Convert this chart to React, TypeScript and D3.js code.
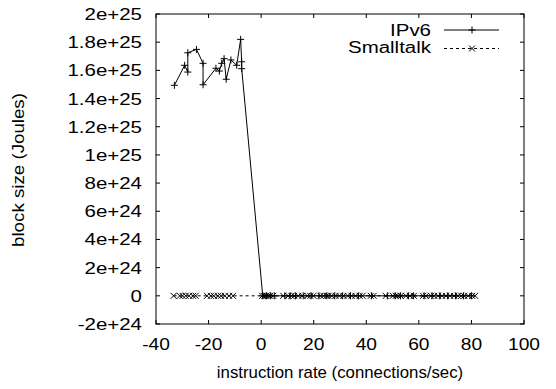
import React from "react";
import * as d3 from "d3";

const xTicks = [-40, -20, 0, 20, 40, 60, 80, 100];
const yTicks = [-2e24, 0, 2e24, 4e24, 6e24, 8e24, 1e25, 1.2e25, 1.4e25, 1.6e25, 1.8e25, 2e25];
const yTickLabels = ["-2e+24", "0", "2e+24", "4e+24", "6e+24", "8e+24", "1e+25", "1.2e+25", "1.4e+25", "1.6e+25", "1.8e+25", "2e+25"];

const ipv6X = [-33.0, -29.1, -27.9, -27.9, -24.6, -22.1, -22.1, -17.2, -15.9, -15.0, -14.1, -13.3, -11.5, -9.3, -7.8, -7.4, -7.4,
  0.6, 2.0, 3.5, 5.0, 9.0, 11.0, 13.0, 16.0, 19.0, 22.0, 25.0, 28.0, 31.0, 34.0, 37.0, 42.0, 48.0, 51.0, 53.0, 56.0, 58.0, 62.0, 65.0, 68.0, 71.0, 74.0, 77.0, 80.0];
const ipv6Y = [14.94e24, 16.36e24, 15.88e24, 17.25e24, 17.49e24, 16.5e24, 14.98e24, 16.15e24, 15.95e24, 16.5e24, 16.83e24, 15.37e24, 16.74e24, 16.36e24, 18.2e24, 16.61e24, 16.12e24,
  0, 0, 0, 0, 0, 0, 0, 0, 0, 0, 0, 0, 0, 0, 0, 0, 0, 0, 0, 0, 0, 0, 0, 0, 0, 0, 0, 0];

const smalltalkX = [-33.3, -31.0, -29.9, -28.7, -27.4, -25.9, -24.9, -20.6, -19.1, -18.0, -16.4, -15.3, -13.8, -12.2, -10.7,
  0.4, 1.1, 1.9, 2.7, 3.4, 4.6, 8.4, 10.3, 11.5, 12.6, 14.1, 15.7, 17.6, 18.7, 19.9, 22.6, 23.7, 24.9, 25.6, 26.8, 28.3, 29.8,
  31.3, 32.9, 34.4, 35.9, 37.5, 38.6, 41.7, 42.8, 47.4, 50.1, 51.2, 52.0, 53.1, 55.1, 56.6, 58.1, 61.6, 62.7, 64.6, 65.8, 67.3,
  68.8, 70.3, 71.9, 73.4, 74.9, 76.1, 77.2, 78.8, 80.3, 81.4];
const smalltalkY = smalltalkX.map(() => 0);

const W = 556, H = 389;
const left = 156, right = 524, top = 14, bottom = 324;
const font = "Liberation Sans, Arial, Helvetica, sans-serif";

function Txt(props: { x: number; y: number; sx: number; size: number; anchor: string; rot?: number; children: React.ReactNode }) {
  const { x, y, sx, size, anchor, rot, children } = props;
  return (
    <text transform={`translate(${x},${y})${rot ? ` rotate(${rot})` : ""} scale(${sx},1)`} fontSize={size} textAnchor={anchor} fill="#000">
      {children}
    </text>
  );
}

export default function App() {
  const x = d3.scaleLinear().domain([-40, 100]).range([left, right]);
  const y = d3.scaleLinear().domain([-2e24, 2e25]).range([bottom, top]);

  const ipv6Pts: [number, number][] = ipv6X.map((v, i) => [v, ipv6Y[i]]);
  const stPts: [number, number][] = smalltalkX.map((v, i) => [v, smalltalkY[i]]);
  const line = d3.line<[number, number]>().x(d => x(d[0])).y(d => y(d[1]));

  const plus = (cx: number, cy: number, k: string) => (
    <path key={k} d={`M${cx - 3.5},${cy}H${cx + 3.5}M${cx},${cy - 3.5}V${cy + 3.5}`} stroke="#000" strokeWidth={1} fill="none" />
  );
  const cross = (cx: number, cy: number, k: string) => (
    <path key={k} d={`M${cx - 3},${cy - 3}L${cx + 3},${cy + 3}M${cx - 3},${cy + 3}L${cx + 3},${cy - 3}`} stroke="#000" strokeWidth={1} fill="none" />
  );
  const tk = 4;

  return (
    <svg width={W} height={H} style={{ position: "absolute", left: 0, top: 0, background: "#fff" }} fontFamily={font}>
      {xTicks.map((t, i) => (
        <g key={"xt" + i}>
          <line x1={x(t)} x2={x(t)} y1={bottom} y2={bottom - tk} stroke="#000" />
          <line x1={x(t)} x2={x(t)} y1={top} y2={top + tk} stroke="#000" />
          <Txt x={x(t)} y={350} sx={1.2} size={16} anchor="middle">{t}</Txt>
        </g>
      ))}
      {yTicks.map((t, i) => (
        <g key={"yt" + i}>
          <line x1={left} x2={left + tk} y1={y(t)} y2={y(t)} stroke="#000" />
          <line x1={right} x2={right - tk} y1={y(t)} y2={y(t)} stroke="#000" />
          <Txt x={142} y={y(t) + 6} sx={1.28} size={16} anchor="end">{yTickLabels[i]}</Txt>
        </g>
      ))}
      <rect x={left} y={top} width={right - left} height={bottom - top} fill="none" stroke="#000" strokeWidth={1} />

      <path d={line(stPts) || ""} fill="none" stroke="#000" strokeWidth={1} strokeDasharray="3,3" />
      {stPts.map((p, i) => cross(x(p[0]), y(p[1]), "s" + i))}
      <path d={line(ipv6Pts) || ""} fill="none" stroke="#000" strokeWidth={1} />
      {ipv6Pts.map((p, i) => plus(x(p[0]), y(p[1]), "p" + i))}

      <Txt x={431} y={36} sx={1.28} size={16} anchor="end">IPv6</Txt>
      <line x1={444} x2={499} y1={30} y2={30} stroke="#000" />
      {plus(472, 30, "lg1")}
      <Txt x={431} y={53} sx={1.28} size={16} anchor="end">Smalltalk</Txt>
      <line x1={444} x2={499} y1={48.5} y2={48.5} stroke="#000" strokeDasharray="3,3" />
      {cross(472, 48.5, "lg2")}

      <Txt x={340} y={378} sx={1.05} size={16} anchor="middle">instruction rate (connections/sec)</Txt>
      <Txt x={24} y={170} sx={1.17} size={16} rot={-90} anchor="middle">block size (Joules)</Txt>
    </svg>
  );
}
